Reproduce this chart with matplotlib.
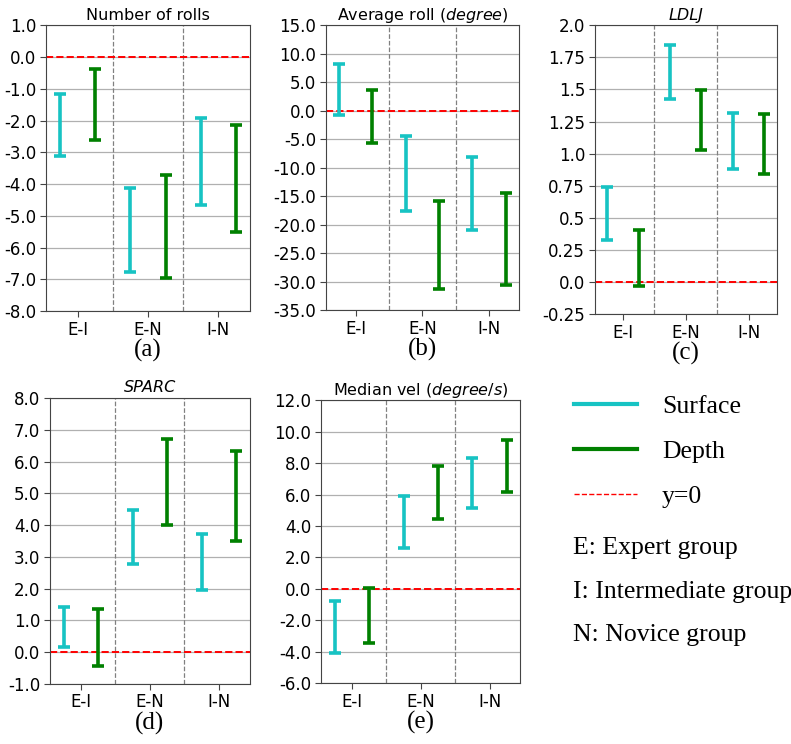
"""Confidence intervals of group differences, surface vs depth."""

import matplotlib.pyplot as plt
import numpy as np
from matplotlib.lines import Line2D
from matplotlib.ticker import FuncFormatter

pairs = ["E-I", "E-N", "I-N"]

# (low, high) per pair
rolls_surface = [(-3.12, -1.15), (-6.77, -4.12), (-4.67, -1.93)]
rolls_depth = [(-2.62, -0.39), (-6.95, -3.73), (-5.51, -2.15)]

avg_roll_surface = [(-0.67, 8.13), (-17.5, -4.37), (-21.0, -8.18)]
avg_roll_depth = [(-5.66, 3.73), (-31.2, -15.9), (-30.6, -14.5)]

ldlj_surface = [(0.328, 0.743), (1.428, 1.85), (0.88, 1.32)]
ldlj_depth = [(-0.035, 0.406), (1.03, 1.495), (0.841, 1.307)]

sparc_surface = [(0.155, 1.42), (2.76, 4.47), (1.94, 3.71)]
sparc_depth = [(-0.44, 1.36), (3.99, 6.72), (3.51, 6.34)]

vel_surface = [(-4.12, -0.77), (2.58, 5.9), (5.12, 8.32)]
vel_depth = [(-3.48, 0.03), (4.44, 7.79), (6.16, 9.5)]

titles = [
    "Number of rolls",
    r"Average roll ($\it{degree}$)",
    "LDLJ",
    "SPARC",
    r"Median vel ($\it{degree/s}$)",
]
italic_title = [False, False, True, True, False]
ylims = [(-8.0, 1.0), (-35.0, 15.0), (-0.25, 2.0), (-1.0, 8.0), (-6.0, 12.0)]
ysteps = [1.0, 5.0, 0.25, 1.0, 2.0]
letters = ["(a)", "(b)", "(c)", "(d)", "(e)"]

panels = [
    (rolls_surface, rolls_depth),
    (avg_roll_surface, avg_roll_depth),
    (ldlj_surface, ldlj_depth),
    (sparc_surface, sparc_depth),
    (vel_surface, vel_depth),
]

# axes rectangles in figure fractions
rects = [
    [0.058, 0.582, 0.258, 0.384],
    [0.412, 0.583, 0.244, 0.383],
    [0.752, 0.578, 0.230, 0.388],
    [0.063, 0.081, 0.253, 0.384],
    [0.406, 0.082, 0.252, 0.380],
]

SURF = "#17c3c3"
DEPTH = "green"
SERIF = "Liberation Serif"

fig = plt.figure(figsize=(7.91, 7.44), dpi=100)

for k, (surf, depth) in enumerate(panels):
    ax = fig.add_axes(rects[k])
    x = np.arange(len(pairs))
    for data, off, col in [(surf, -0.25, SURF), (depth, 0.25, DEPTH)]:
        lo = np.array([d[0] for d in data])
        hi = np.array([d[1] for d in data])
        ax.errorbar(x + off, (lo + hi) / 2, yerr=(hi - lo) / 2, fmt="none",
                    ecolor=col, elinewidth=2.6, capsize=4, capthick=2.6, zorder=3)
    ax.axhline(0, color="red", linestyle="--", linewidth=1.4, zorder=2)
    for sep in [0.5, 1.5]:
        ax.axvline(sep, color="gray", linestyle="--", linewidth=0.9, zorder=1)
    lo_y, hi_y = ylims[k]
    ax.set_ylim(lo_y, hi_y)
    ax.set_yticks(np.arange(lo_y, hi_y + ysteps[k] / 2, ysteps[k]))
    ax.yaxis.set_major_formatter(FuncFormatter(lambda v, p: str(round(v, 2))))
    ax.grid(axis="y", color="#b0b0b0", linewidth=0.9, zorder=0)
    ax.set_axisbelow(True)
    ax.set_xlim(-0.45, 2.45)
    ax.set_xticks(x)
    ax.set_xticklabels(pairs)
    ax.tick_params(labelsize=12, color="#444444", length=4, pad=3)
    for sp in ax.spines.values():
        sp.set_color("#444444")
    ax.set_title(titles[k], fontsize=11.5, pad=4,
                 fontstyle="italic" if italic_title[k] else "normal")
    ax.set_xlabel(letters[k], family=SERIF, fontsize=18, labelpad=0)

handles = [
    Line2D([], [], color=SURF, linewidth=3),
    Line2D([], [], color=DEPTH, linewidth=3),
    Line2D([], [], color="red", linestyle="--", linewidth=1),
]
fig.legend(handles, ["Surface", "Depth", "y=0"], loc="upper left",
           bbox_to_anchor=(0.697, 0.5), frameon=False,
           prop={"family": SERIF, "size": 18.5}, handlelength=2.45,
           handletextpad=0.95, labelspacing=0.85)

notes = ["E: Expert group", "I: Intermediate group", "N: Novice group"]
for i, note in enumerate(notes):
    fig.text(0.724, 0.263 - i * 0.0585, note, family=SERIF, fontsize=18.5,
             va="center")

fig.savefig("out.png", dpi=100)
